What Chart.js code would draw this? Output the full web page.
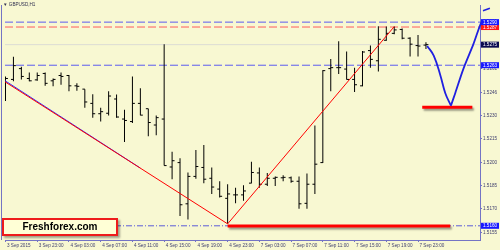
<!DOCTYPE html>
<html><head><meta charset="utf-8">
<script src="https://cdn.jsdelivr.net/npm/chart.js@4.4.0/dist/chart.umd.min.js"></script>
<style>
html,body{margin:0;padding:0;background:#f8f8d2;}
#wrap{position:relative;width:500px;height:250px;overflow:hidden;background:#f8f8d2;}
canvas{position:absolute;left:0;top:0;}
#sym{position:absolute;left:3px;top:2px;font:4.6px "Liberation Sans","DejaVu Sans",sans-serif;color:#303050;white-space:nowrap;}
#brand{position:absolute;left:2px;top:218px;width:112px;height:14px;border:2px solid #ee1c1c;background:#ffffd6;box-shadow:2px 2px 2px rgba(0,0,0,0.35);font:bold 10px "Liberation Sans",Arial,sans-serif;color:#000;text-align:center;line-height:14px;}
</style></head>
<body><div id="wrap"><canvas id="c" width="500" height="250"></canvas><div id="sym">▼ GBPUSD,H1</div><div id="brand">Freshforex.com</div></div>
<script>
// ---- data: GBPUSD H1 bars (index 0 = 3 Sep 2015 19:00) ----
const barIndex = Array.from({length: 54}, (_, i) => i);
const openP = [1.52504,1.52529,1.52598,1.52535,1.52526,1.52567,1.52520,1.52554,1.52554,1.52488,
1.52467,1.52376,1.52310,1.52313,1.52404,1.52276,1.52260,1.52376,1.52342,1.52238,
1.52276,1.51970,1.51998,1.51735,1.51910,1.51967,1.51898,1.51829,1.51770,1.51792,
1.51792,1.51867,1.51932,1.51860,1.51898,1.51901,1.51901,1.51879,1.51738,1.51860,
1.51998,1.52598,1.52604,1.52595,1.52529,1.52488,1.52713,1.52648,1.52779,1.52823,
1.52848,1.52792,1.52745,1.52748];
const highP = [1.52548,1.52673,1.52610,1.52573,1.52573,1.52573,1.52535,1.52573,1.52557,1.52504,
1.52467,1.52435,1.52348,1.52454,1.52432,1.52335,1.52548,1.52473,1.52342,1.52298,
1.52754,1.52067,1.52026,1.51935,1.52079,1.52110,1.51967,1.51879,1.51860,1.51838,
1.51854,1.52004,1.51967,1.51932,1.51910,1.51917,1.51910,1.51910,1.51929,1.52235,
1.52588,1.52660,1.52773,1.52707,1.52604,1.52710,1.52745,1.52868,1.52867,1.52866,
1.52854,1.52798,1.52813,1.52767];
const lowP = [1.52392,1.52517,1.52529,1.52517,1.52520,1.52488,1.52485,1.52495,1.52454,1.52457,
1.52348,1.52285,1.52260,1.52298,1.52285,1.52129,1.52251,1.52301,1.52167,1.52173,
1.51979,1.51892,1.51657,1.51635,1.51895,1.51867,1.51798,1.51776,1.51607,1.51738,
1.51754,1.51867,1.51838,1.51848,1.51848,1.51879,1.51870,1.51704,1.51704,1.51798,
1.51995,1.52454,1.52563,1.52529,1.52448,1.52485,1.52604,1.52579,1.52776,1.52817,
1.52785,1.52676,1.52676,1.52723];
const closeP = [1.52535,1.52617,1.52548,1.52520,1.52554,1.52504,1.52529,1.52548,1.52488,1.52485,
1.52385,1.52310,1.52323,1.52423,1.52289,1.52267,1.52376,1.52301,1.52254,1.52285,
1.51979,1.52010,1.51729,1.51910,1.51973,1.51892,1.51842,1.51783,1.51798,1.51792,
1.51817,1.51935,1.51860,1.51898,1.51904,1.51904,1.51879,1.51735,1.51860,1.51988,
1.52585,1.52604,1.52604,1.52529,1.52495,1.52704,1.52657,1.52785,1.52823,1.52845,
1.52792,1.52754,1.52742,1.52751];

// ---- axis ticks ----
const xTickIdx = [0,4,8,12,16,20,24,28,32,36,40,44,48,52];
const xTickLabels = ["3 Sep 2015","3 Sep 23:00","4 Sep 03:00","4 Sep 07:00","4 Sep 11:00","4 Sep 15:00","4 Sep 19:00","4 Sep 23:00","7 Sep 03:00","7 Sep 07:00","7 Sep 11:00","7 Sep 15:00","7 Sep 19:00","7 Sep 23:00"];
const yTickVals = [1.51550,1.51702,1.51852,1.52000,1.52150,1.52300,1.52446,1.52598,1.52748,1.52898];
const yTickLabels = ["1.5155","1.5170","1.5185","1.5200","1.5215","1.5230","1.5246","1.5261","1.5276","1.5291"];
const yMin = 1.51504, yMax = 1.53004;
const xMin = -0.0625, xMax = 59.8125;

// ---- drawn objects (time index, price) ----
const levelBlueTop = 1.528946, levelRed = 1.528634, levelBid = 1.527509, levelBlueMid = 1.526196, levelBase = 1.515946;
const downTrendIdx = [-0.5, 28], downTrendP = [1.52528, 1.51607];
const blueTrendIdx = [-0.5, 17], blueTrendP = [1.52535, 1.51963];
const upTrendIdx = [28, 49], upTrendP = [1.51607, 1.52866];
const supportIdx = [28, 56.06], supportP = [1.51594, 1.51594];
const targetIdx = [52.53, 58.85], targetP = [1.52352, 1.52352];
const pathDownIdx = [53.15, 53.98, 54.81, 55.44, 56.15], pathDownP = [1.52743, 1.52681, 1.52556, 1.52441, 1.52362];
const pathUpIdx = [56.15, 56.69, 57.73, 58.98, 60.03, 61.06], pathUpP = [1.52362, 1.52441, 1.52598, 1.52754, 1.52900, 1.52983];
const arrowIdx = [60.19, 61.06, 61.13], arrowP = [1.52967, 1.52983, 1.52938];
// price tags on the right axis (drawing order)
const tagVals = [levelRed, levelBlueTop, levelBid, levelBlueMid, levelBase];
const tagTexts = ["1.5287", "1.5290", "1.5275", "1.5263", "1.5160"];
const tagColors = ["#ff1818", "#1818ff", "#0a0a50", "#1818ff", "#1818ff"];

const axisColor = "#7474c4";
const tickColor = "#404070";
const fontFam = '"Liberation Sans", Arial, sans-serif';

const pts = (xs, ys) => xs.map((x, i) => ({x, y: ys[i]}));
const flat = (x0, x1, y) => [{x: x0, y}, {x: x1, y}];

function lineDs(data, color, width, order, extra) {
  return Object.assign({type: 'line', data, borderColor: color, borderWidth: width, pointRadius: 0, fill: false, tension: 0, order}, extra || {});
}

const datasets = [
  lineDs(flat(xMin, xMax, levelBlueTop), "#5c5cf0", 1, 60, {borderDash: [8, 3]}),
  lineDs(flat(xMin, xMax, levelRed), "#ff5c5c", 1, 60, {borderDash: [8, 3]}),
  lineDs(flat(xMin, xMax, levelBid), "#dcdcd4", 1, 61),
  lineDs(flat(xMin, xMax, levelBlueMid), "#5c5cf0", 1, 60, {borderDash: [8, 3]}),
  lineDs(flat(xMin, xMax, levelBase), "#5c5cd8", 1, 60, {borderDash: [6, 2, 1, 2]}),
  {type: 'bar', data: barIndex.map(i => ({x: i, y: [lowP[i], highP[i]]})), backgroundColor: "#000", barThickness: 1, borderWidth: 0, inflateAmount: 0, order: 40},
  {type: 'line', showLine: false, data: barIndex.map(i => ({x: i - 0.15, y: openP[i]})), pointStyle: 'line', pointRadius: 1.25, pointBorderWidth: 1, pointBorderColor: "#000", borderColor: "#000", order: 39},
  {type: 'line', showLine: false, data: barIndex.map(i => ({x: i + 0.15, y: closeP[i]})), pointStyle: 'line', pointRadius: 1.25, pointBorderWidth: 1, pointBorderColor: "#000", borderColor: "#000", order: 39},
  lineDs(pts(blueTrendIdx, blueTrendP), "#2a2aff", 1, 31),
  lineDs(pts(downTrendIdx, downTrendP), "#ff0000", 1, 30),
  lineDs(pts(upTrendIdx, upTrendP), "#ff0000", 1, 30),
  lineDs(pts(supportIdx, supportP), "#ff0000", 3, 20, {shadow: true, borderCapStyle: 'butt'}),
  lineDs(pts(targetIdx, targetP), "#ff0000", 3, 20, {shadow: true, borderCapStyle: 'butt'}),
  lineDs(pts(pathDownIdx, pathDownP), "#2020e0", 1.8, 10, {tension: 0.4, clip: false}),
  lineDs(pts(pathUpIdx, pathUpP), "#2020e0", 1.8, 10, {tension: 0.3, clip: false}),
  lineDs(pts(arrowIdx, arrowP), "#2020e0", 1.5, 9, {clip: false})
];

const shadowPlugin = {
  id: 'shadow',
  beforeDatasetDraw(chart, args) {
    const ds = chart.data.datasets[args.index];
    if (ds.shadow) {
      const ctx = chart.ctx; ctx.save();
      ctx.shadowColor = 'rgba(0,0,0,0.4)'; ctx.shadowOffsetX = 1.5; ctx.shadowOffsetY = 2; ctx.shadowBlur = 2;
    }
  },
  afterDatasetDraw(chart, args) {
    if (chart.data.datasets[args.index].shadow) chart.ctx.restore();
  }
};

const framePlugin = {
  id: 'frame',
  afterDraw(chart) {
    const ctx = chart.ctx, a = chart.chartArea;
    ctx.save();
    ctx.strokeStyle = axisColor; ctx.lineWidth = 1;
    ctx.beginPath(); ctx.moveTo(1.5, a.top); ctx.lineTo(1.5, a.bottom); ctx.stroke();
    ctx.restore();
  }
};

const tagPlugin = {
  id: 'tags',
  afterDraw(chart) {
    const ctx = chart.ctx, ys = chart.scales.y, a = chart.chartArea;
    ctx.save();
    ctx.font = '4.6px ' + fontFam;
    ctx.textBaseline = 'middle'; ctx.textAlign = 'left';
    tagVals.forEach((v, i) => {
      const y = ys.getPixelForValue(v);
      ctx.fillStyle = tagColors[i];
      ctx.fillRect(a.right + 1, y - 3, 18, 6);
      ctx.fillStyle = '#ffffff';
      ctx.fillText(tagTexts[i], a.right + 3, y + 0.3);
    });
    ctx.restore();
  }
};

new Chart(document.getElementById('c'), {
  type: 'bar',
  data: {datasets},
  options: {
    responsive: false, animation: false, events: [], devicePixelRatio: 1,
    layout: {padding: {left: 1, top: 0, right: 0, bottom: 0}},
    plugins: {legend: {display: false}, tooltip: {enabled: false}, title: {display: false}},
    scales: {
      x: {
        type: 'linear', position: 'bottom', min: xMin, max: xMax, offset: false,
        afterBuildTicks: s => { s.ticks = xTickIdx.map(v => ({value: v})); },
        afterFit: s => { s.height = 10; s.paddingLeft = 0; s.paddingRight = 0; },
        ticks: {autoSkip: false, maxRotation: 0, minRotation: 0, align: 'start', labelOffset: 1.5, padding: 1,
          font: {family: fontFam, size: 4.6}, color: tickColor, callback: (v, i) => xTickLabels[i]},
        grid: {drawOnChartArea: false, drawTicks: true, tickLength: 2, color: axisColor, offset: false},
        border: {display: true, color: axisColor, width: 1}
      },
      y: {
        type: 'linear', position: 'right', min: yMin, max: yMax, beginAtZero: false,
        afterBuildTicks: s => { s.ticks = yTickVals.map(v => ({value: v})); },
        afterFit: s => { s.width = 20; s.paddingTop = 0; s.paddingBottom = 0; },
        ticks: {padding: 1, font: {family: fontFam, size: 4.6}, color: tickColor, callback: (v, i) => yTickLabels[i]},
        grid: {drawOnChartArea: false, drawTicks: true, tickLength: 2, color: axisColor},
        border: {display: true, color: axisColor, width: 1}
      }
    }
  },
  plugins: [shadowPlugin, framePlugin, tagPlugin]
});
</script>
</body></html>
